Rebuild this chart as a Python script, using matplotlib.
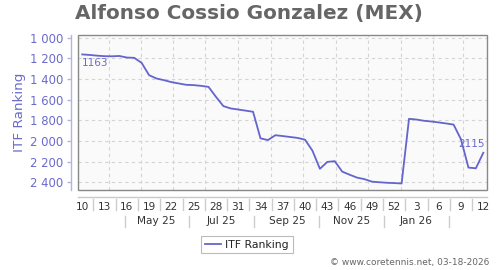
import datetime as dt
import matplotlib
matplotlib.use("Agg")
import matplotlib.pyplot as plt
import matplotlib.dates as mdates
import matplotlib.transforms as mtransforms
from matplotlib.patches import Rectangle
from matplotlib.lines import Line2D
from matplotlib.ticker import FuncFormatter

# ---------------- data ----------------
years = [2025] * 43 + [2026] * 12
weeks = list(range(10, 53)) + list(range(1, 13))
ranking = [1163, 1168, 1175, 1180, 1181, 1178, 1193, 1196, 1245, 1364,
           1396, 1412, 1431, 1444, 1457, 1460, 1467, 1477, 1573, 1663,
           1686, 1696, 1707, 1718, 1975, 1992, 1945, 1953, 1962, 1971,
           1988, 2095, 2270, 2203, 2196, 2297, 2327, 2355, 2370, 2394,
           2400, 2405, 2408, 2412, 1786, 1793, 1805, 1812, 1821, 1831,
           1842, 1985, 2258, 2265, 2115]
y_ticks = [1000, 1200, 1400, 1600, 1800, 2000, 2200, 2400]
month_labels = ["May 25", "Jul 25", "Sep 25", "Nov 25", "Jan 26"]
month_label_dates = [dt.date(2025, 5, 16), dt.date(2025, 7, 16), dt.date(2025, 9, 16),
                     dt.date(2025, 11, 16), dt.date(2026, 1, 16)]
month_sep_dates = [dt.date(2025, 4, 16), dt.date(2025, 6, 16), dt.date(2025, 8, 16),
                   dt.date(2025, 10, 16), dt.date(2025, 12, 16), dt.date(2026, 2, 16)]
grid_month_starts = [dt.date(2025, m, 1) for m in range(4, 13)] + \
                    [dt.date(2026, m, 1) for m in range(1, 4)]

title = "Alfonso Cossio Gonzalez (MEX)"
series_name = "ITF Ranking"
credit = "\u00a9 www.coretennis.net, 03-18-2026"

# ---------------- styling ----------------
LINE_C = "#6464cc"
AXIS_C = "#b4b4e4"
LABEL_C = "#6a6acc"
GRID_C = "#d4d4d4"

dates = [dt.date.fromisocalendar(y, w, 5) for y, w in zip(years, weeks)]
x = mdates.date2num(dates)

W, H = 500, 270
fig = plt.figure(figsize=(W / 100, H / 100), dpi=100)
left, right, top, bottom = 78, 487, 35, 190
ax = fig.add_axes([left / W, 1 - bottom / H, (right - left) / W, (bottom - top) / H])
ax.set_facecolor("#fafafa")

ax.set_xlim(x[0] - 4, x[-1] + 3.5)
ax.set_ylim(2475, 975)

# grid
for yv in y_ticks:
    ax.axhline(yv, color=GRID_C, lw=0.8, ls=(0, (3, 3)), zorder=0)
for d in grid_month_starts:
    ax.axvline(mdates.date2num(d), color=GRID_C, lw=0.8, ls=(0, (3, 3)), zorder=0)

ax.plot(x, ranking, color=LINE_C, lw=1.3, zorder=3, solid_joinstyle="round")

# spines
for s in ["top", "right"]:
    ax.spines[s].set_visible(False)
ax.spines["left"].set_position(("outward", 5))
ax.spines["left"].set_color(AXIS_C)
ax.spines["left"].set_linewidth(1.0)
ax.spines["bottom"].set_position(("outward", 5))
ax.spines["bottom"].set_color("#c8c8c8")
ax.spines["bottom"].set_linewidth(1.0)
ax.add_patch(Rectangle((0, 0), 1, 1, transform=ax.transAxes, fill=False,
                       edgecolor="#888888", lw=1.0, clip_on=False, zorder=4))

# y axis
ax.set_yticks(y_ticks)
ax.yaxis.set_major_formatter(FuncFormatter(lambda v, p: f"{v:,.0f}".replace(",", " ")))
ax.tick_params(axis="y", colors=AXIS_C, labelcolor=LABEL_C, length=3, width=1,
               labelsize=8.4, pad=2.4)

# x axis week labels
ax.set_xticks(x[::3])
ax.set_xticklabels([str(w) for w in weeks[::3]])
ax.tick_params(axis="x", length=0, labelsize=7.6, labelcolor="#333333", pad=4)

axh = bottom - top
def ypix(p):
    return (bottom - p) / axh

trans = mtransforms.blended_transform_factory(ax.transData, ax.transAxes)
tick_x = x[::3]
for a, b in zip(tick_x[:-1], tick_x[1:]):
    ax.add_line(Line2D([(a + b) / 2] * 2, [ypix(198.5), ypix(209.5)], transform=trans,
                       color="#cccccc", lw=1.0, clip_on=False))
for d in month_sep_dates:
    xv = mdates.date2num(d)
    ax.add_line(Line2D([xv, xv], [ypix(216), ypix(227)], transform=trans,
                       color="#cccccc", lw=1.0, clip_on=False))
for lab, d in zip(month_labels, month_label_dates):
    ax.text(mdates.date2num(d), ypix(221.5), lab, transform=trans, ha="center", va="center",
            fontsize=7.6, color="#333333")

# value annotations
ax.annotate(f"{ranking[0]}", (x[0], ranking[0]), xytext=(-0.5, -6.5), textcoords="offset points",
            ha="left", va="center", fontsize=7.5, color=LABEL_C, zorder=5)
ax.annotate(f"{ranking[-1]}", (x[-1], ranking[-1]), xytext=(1, 6), textcoords="offset points",
            ha="right", va="center", fontsize=7.5, color=LABEL_C, zorder=5)

# texts
fig.text(249 / W, 1 - 13 / H, title, ha="center", va="center", fontsize=14.4,
         fontweight="bold", color="#666666")
fig.text(20 / W, 1 - 112 / H, "ITF Ranking", rotation=90, ha="center", va="center",
         fontsize=9.7, color=LABEL_C)
fig.text(489 / W, 1 - 263 / H, credit, ha="right", va="center", fontsize=6.5, color="#666666")

leg = fig.legend(handles=[Line2D([], [], color=LINE_C, lw=1.3, label=series_name)],
                 loc="center", bbox_to_anchor=(247 / W, 1 - 244.5 / H), fontsize=7.8,
                 frameon=True, fancybox=False, handlelength=1.5, handletextpad=0.4,
                 borderpad=0.35, borderaxespad=0)
leg.get_frame().set_edgecolor("#aaaaaa")
leg.get_frame().set_linewidth(0.8)
for t in leg.get_texts():
    t.set_color("#222222")

fig.savefig("out.png", dpi=100)
